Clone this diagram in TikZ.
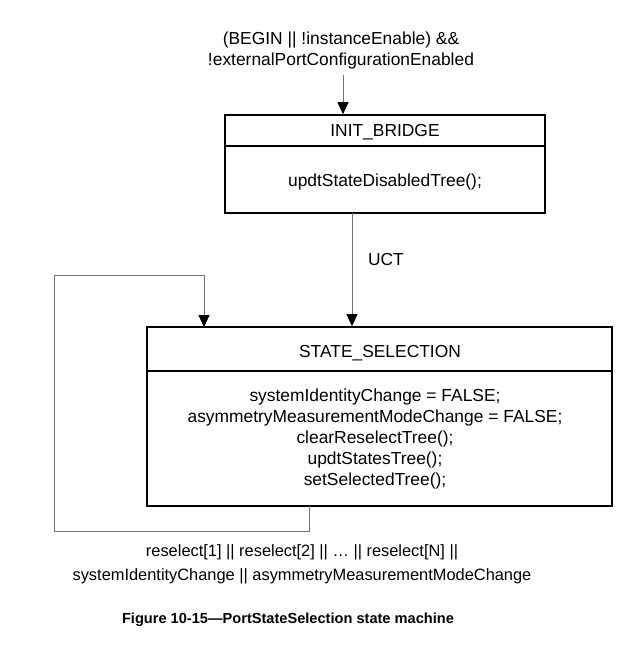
\documentclass[tikz,border=0pt]{standalone}
\usepackage{fontspec}
\setmainfont{Liberation Sans}
\usetikzlibrary{arrows.meta}

\tikzset{
  statebox/.style={draw, line width=0.8pt, rectangle, inner sep=0pt},
  trans/.style={draw=black!55, line width=0.5pt, -{Triangle[color=black,length=6pt,width=5.5pt]}},
  txt/.style={align=center, inner sep=0pt, font=\fontsize{8.7}{10.5}\selectfont},
}

\begin{document}
\begin{tikzpicture}[x=0.5pt, y=-0.5pt]
  \useasboundingbox (0,0) rectangle (635,649);
  % start condition
  \node[txt] (START) at (341,50) {(BEGIN || !instanceEnable) \&\&\\!externalPortConfigurationEnabled};
  \coordinate (S0) at (343,75);
  % INIT_BRIDGE
  \node[statebox, minimum width=160pt, minimum height=49pt] (INIT) at (385,164) {};
  \node[txt] (INITt) at (385,132) {INIT\_BRIDGE};
  \node[txt] (INITa) at (385,182) {updtStateDisabledTree();};
  \draw[line width=0.8pt] (225,146) -- (545,146);
  % STATE_SELECTION
  \node[statebox, minimum width=232.5pt, minimum height=89.5pt] (SS) at (379.5,416.5) {};
  \node[txt] (SSt) at (380,353) {STATE\_SELECTION};
  \node[txt] (SSa) at (375,438.5) {systemIdentityChange = FALSE;\\asymmetryMeasurementModeChange = FALSE;\\clearReselectTree();\\updtStatesTree();\\setSelectedTree();};
  \draw[line width=0.8pt] (147,371) -- (612,371);
  % transitions
  \draw[trans] (S0) -- (S0 |- INIT.north);
  \coordinate (U0) at (352,213);
  \draw[trans] (U0) -- (U0 |- SS.north);
  \node[txt] (UCT) at (386,260) {UCT};
  \coordinate (L0) at (309,506);
  \coordinate (L1) at (204,327);
  \draw[trans] (L0) -- (309,531) -| (54,275) -| (L1);
  \node[txt, font=\fontsize{8.2}{11.8}\selectfont] (COND) at (302,564) {reselect[1] || reselect[2] || \dots\ || reselect[N] ||\\systemIdentityChange || asymmetryMeasurementModeChange};
  % caption
  \node[txt, font=\fontsize{7.3}{9}\selectfont\bfseries] (CAP) at (288,620) {Figure 10-15---PortStateSelection state machine};
\end{tikzpicture}
\end{document}
